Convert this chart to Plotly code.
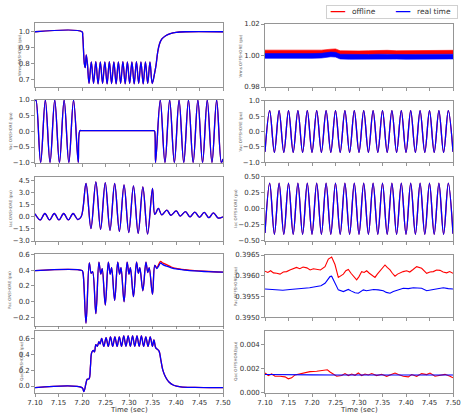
import plotly.graph_objects as go

W, H = 462, 415
FONT = "DejaVu Sans"
RED = "#ff0000"
BLUE = "#0000ff"
FRAME = "#7a7a7a"
TXT = "#333333"

# ---------------- tick labels ----------------
x_ticks = [7.10, 7.15, 7.20, 7.25, 7.30, 7.35, 7.40, 7.45, 7.50]
x_ticklabels = ["7.10", "7.15", "7.20", "7.25", "7.30", "7.35", "7.40", "7.45", "7.50"]

yt_vrms_on = [0.7, 0.8, 0.9, 1.0]
yl_vrms_on = ["0.7", "0.8", "0.9", "1.0"]
yt_vac = [-1.0, -0.5, 0.0, 0.5, 1.0]
yl_vac = ["\u22121.0", "\u22120.5", "0.0", "0.5", "1.0"]
yt_iac_on = [-3.0, -1.5, 0.0, 1.5, 3.0, 4.5]
yl_iac_on = ["\u22123.0", "\u22121.5", "0.0", "1.5", "3.0", "4.5"]
yt_pac_on = [-0.2, 0.0, 0.2, 0.4, 0.6]
yl_pac_on = ["\u22120.2", "0.0", "0.2", "0.4", "0.6"]
yt_qac_on = [0.0, 0.2, 0.4, 0.6]
yl_qac_on = ["0.0", "0.2", "0.4", "0.6"]
yt_vrms_off = [0.98, 1.00, 1.02]
yl_vrms_off = ["0.98", "1.00", "1.02"]
yt_iac_off = [-0.5, -0.25, 0.0, 0.25, 0.5]
yl_iac_off = ["\u22120.50", "\u22120.25", "0.00", "0.25", "0.50"]
yt_pac_off = [0.3950, 0.3955, 0.3960, 0.3965]
yl_pac_off = ["0.3950", "0.3955", "0.3960", "0.3965"]
yt_qac_off = [0.0, 0.002, 0.004]
yl_qac_off = ["0.000", "0.002", "0.004"]

series_names = ["offline", "real time"]

# ---------------- ONSHORE data (offline and real time coincide except Pac) ----------------
vrms_on_t = [7.100, 7.2000, 7.2015, 7.2050, 7.2070, 7.2090, 7.2115,
             7.2150, 7.2198, 7.2246, 7.2294, 7.2342, 7.2390, 7.2438, 7.2486, 7.2534, 7.2582,
             7.2630, 7.2678, 7.2726, 7.2774, 7.2822, 7.2870, 7.2918, 7.2966, 7.3014, 7.3062,
             7.3110, 7.3158, 7.3206, 7.3254, 7.3302, 7.3350, 7.3398, 7.3446, 7.3494,
             7.3545, 7.3575, 7.3610, 7.3650, 7.3700, 7.3780, 7.3880, 7.4000, 7.4200, 7.5000]
vrms_on_rt = [1.0, 1.0, 0.975, 0.80, 0.775, 0.855, 0.80,
              0.675, 0.810, 0.675, 0.812, 0.673, 0.810, 0.675, 0.810, 0.672, 0.812,
              0.674, 0.810, 0.673, 0.810, 0.675, 0.812, 0.673, 0.810, 0.674, 0.810,
              0.673, 0.812, 0.675, 0.810, 0.673, 0.810, 0.674, 0.810, 0.675,
              0.74, 0.79, 0.87, 0.925, 0.955, 0.975, 0.988, 0.996, 1.0, 1.0]
vrms_on_off = vrms_on_rt

vac_on_t = [7.100, 7.102, 7.112, 7.122, 7.132, 7.142, 7.152, 7.162, 7.172, 7.182, 7.192,
            7.1955, 7.2000, 7.2500, 7.3000, 7.3500, 7.3530, 7.3545,
            7.3565, 7.3665, 7.3765, 7.3865, 7.3965, 7.4065, 7.4165, 7.4265, 7.4365, 7.4465,
            7.4565, 7.4665, 7.4765, 7.4865, 7.4965, 7.5000]
vac_on_rt = [0.97, 1.0, -1.0, 1.0, -1.0, 1.0, -1.0, 1.0, -1.0, 1.0, -1.0,
             0.02, 0.02, 0.02, 0.02, 0.02, 0.02, 0.0,
             -1.0, 1.0, -1.0, 1.0, -1.0, 1.0, -1.0, 1.0, -1.0, 1.0,
             -1.0, 1.0, -1.0, 1.0, -1.0, -0.88]
vac_on_off = vac_on_rt

iac_on_t = [7.100, 7.111, 7.121, 7.131, 7.141, 7.151, 7.161, 7.171, 7.181, 7.191, 7.1985,
            7.2085, 7.2190, 7.2295, 7.2395, 7.2495, 7.2595, 7.2695, 7.2795, 7.2895, 7.2995,
            7.3095, 7.3195, 7.3295, 7.3395, 7.3500, 7.3550,
            7.3625, 7.3695, 7.3805, 7.3890, 7.4005, 7.4090, 7.4200, 7.4300, 7.4400, 7.4500,
            7.4600, 7.4700, 7.4795, 7.4900, 7.5000]
iac_on_rt = [0.38, -0.38, 0.42, -0.38, 0.42, -0.38, 0.42, -0.38, 0.42, -0.33, 0.05,
             4.15, -1.45, 4.36, -1.55, 4.27, -1.68, 4.15, -1.80, 3.98, -1.95,
             3.86, -2.05, 3.73, -2.15, 3.55, 0.30,
             1.05, 0.25, 0.85, 0.20, 0.75, 0.10, 0.65, 0.00, 0.60, -0.05,
             0.55, -0.10, 0.50, -0.15, 0.00]
iac_on_off = iac_on_rt

pac_on_t = [7.100, 7.2000, 7.2020, 7.2085, 7.2155, 7.2195, 7.2225,
            7.2295, 7.2360, 7.2400, 7.2430, 7.2495, 7.2560, 7.2600, 7.2630,
            7.2695, 7.2760, 7.2800, 7.2830, 7.2895, 7.2960, 7.3000, 7.3030,
            7.3095, 7.3160, 7.3200, 7.3230, 7.3295, 7.3360, 7.3400, 7.3430, 7.3500,
            7.3550, 7.3590, 7.3630, 7.3670, 7.3720, 7.3800, 7.3900, 7.4000,
            7.4200, 7.4400, 7.4600, 7.4800, 7.5000]
pac_on_rt = [0.395, 0.395, 0.37, -0.27, 0.49, 0.36, 0.38,
             -0.15, 0.50, 0.35, 0.42, -0.04, 0.50, 0.35, 0.43,
             0.02, 0.50, 0.35, 0.43, 0.00, 0.50, 0.35, 0.43,
             0.065, 0.50, 0.36, 0.43, 0.14, 0.50, 0.37, 0.43, 0.095,
             0.46, 0.42, 0.45, 0.49, 0.47, 0.45, 0.43, 0.415,
             0.400, 0.390, 0.383, 0.378, 0.374]
pac_on_off = [0.395, 0.395, 0.37, -0.27, 0.49, 0.36, 0.38,
              -0.15, 0.50, 0.35, 0.42, -0.04, 0.50, 0.35, 0.43,
              0.02, 0.50, 0.35, 0.43, 0.00, 0.50, 0.35, 0.43,
              0.065, 0.50, 0.36, 0.43, 0.14, 0.50, 0.37, 0.43, 0.095,
              0.46, 0.43, 0.47, 0.51, 0.49, 0.47, 0.44, 0.422,
              0.405, 0.394, 0.386, 0.380, 0.376]

qac_on_t = [7.100, 7.2000, 7.2040, 7.2080, 7.2110, 7.2150, 7.2180, 7.2205, 7.2240, 7.2265,
            7.2295, 7.2325, 7.2360, 7.2385,
            7.2418, 7.2465, 7.2512, 7.2559, 7.2606, 7.2653, 7.2700, 7.2747, 7.2794, 7.2841,
            7.2888, 7.2935, 7.2982, 7.3029, 7.3076, 7.3123, 7.3170, 7.3217, 7.3264, 7.3311,
            7.3358, 7.3405, 7.3452, 7.3499,
            7.3530, 7.3570, 7.3610, 7.3640, 7.3680, 7.3720, 7.3780, 7.3850, 7.3950, 7.4100,
            7.4400, 7.5000]
qac_on_rt = [-0.02, -0.02, -0.07, 0.02, 0.085, 0.09, 0.25, 0.42, 0.45, 0.43,
             0.52, 0.50, 0.56, 0.53,
             0.60, 0.50, 0.61, 0.50, 0.62, 0.50, 0.62, 0.50, 0.62, 0.50,
             0.63, 0.50, 0.63, 0.50, 0.63, 0.50, 0.63, 0.50, 0.63, 0.50,
             0.62, 0.50, 0.62, 0.50,
             0.58, 0.48, 0.46, 0.44, 0.32, 0.20, 0.11, 0.05, 0.01, -0.01,
             -0.018, -0.02]
qac_on_off = qac_on_rt

# ---------------- OFFSHORE data ----------------
vrms_off_t = [7.10, 7.12, 7.14, 7.16, 7.18, 7.20, 7.22, 7.24, 7.25, 7.26, 7.28, 7.30,
              7.32, 7.34, 7.35, 7.36, 7.38, 7.40, 7.42, 7.44, 7.46, 7.48, 7.50]
vrms_off_offline_hi = [1.0034, 1.0034, 1.0035, 1.0034, 1.0035, 1.0035, 1.0034, 1.0040, 1.0042,
                       1.0030, 1.0028, 1.0029, 1.0030, 1.0033, 1.0035, 1.0033, 1.0030, 1.0031,
                       1.0033, 1.0034, 1.0032, 1.0032, 1.0033]
vrms_off_offline_lo = [1.0010, 1.0010, 1.0011, 1.0010, 1.0011, 1.0011, 1.0010, 1.0016, 1.0018,
                       1.0006, 1.0004, 1.0005, 1.0006, 1.0009, 1.0011, 1.0009, 1.0006, 1.0007,
                       1.0009, 1.0010, 1.0008, 1.0008, 1.0009]
vrms_off_rt_hi = [1.0012, 1.0011, 1.0012, 1.0011, 1.0012, 1.0012, 1.0014, 1.0022, 1.0020,
                  1.0008, 1.0006, 1.0007, 1.0006, 1.0008, 1.0007, 1.0006, 1.0007, 1.0006,
                  1.0007, 1.0008, 1.0007, 1.0008, 1.0008]
vrms_off_rt_lo = [0.9982, 0.9981, 0.9982, 0.9981, 0.9982, 0.9982, 0.9984, 0.9992, 0.9990,
                  0.9978, 0.9976, 0.9977, 0.9976, 0.9978, 0.9977, 0.9976, 0.9977, 0.9976,
                  0.9977, 0.9978, 0.9977, 0.9978, 0.9978]

sine_off_t = [7.10, 7.11, 7.12, 7.13, 7.14, 7.15, 7.16, 7.17, 7.18, 7.19, 7.20,
              7.21, 7.22, 7.23, 7.24, 7.25, 7.26, 7.27, 7.28, 7.29, 7.30,
              7.31, 7.32, 7.33, 7.34, 7.35, 7.36, 7.37, 7.38, 7.39, 7.40,
              7.41, 7.42, 7.43, 7.44, 7.45, 7.46, 7.47, 7.48, 7.49, 7.50]
vac_off_rt = [-0.66, 0.68, -0.68, 0.68, -0.68, 0.68, -0.68, 0.68, -0.68, 0.68, -0.68,
              0.68, -0.68, 0.68, -0.68, 0.68, -0.68, 0.68, -0.68, 0.68, -0.68,
              0.68, -0.68, 0.68, -0.68, 0.68, -0.68, 0.68, -0.68, 0.68, -0.68,
              0.68, -0.68, 0.68, -0.68, 0.68, -0.68, 0.68, -0.68, 0.68, -0.66]
vac_off_off = vac_off_rt
iac_off_rt = [-0.38, 0.40, -0.40, 0.40, -0.40, 0.40, -0.40, 0.40, -0.40, 0.40, -0.40,
              0.40, -0.40, 0.40, -0.40, 0.40, -0.40, 0.40, -0.40, 0.40, -0.40,
              0.40, -0.40, 0.40, -0.40, 0.40, -0.40, 0.40, -0.40, 0.40, -0.40,
              0.40, -0.40, 0.40, -0.40, 0.40, -0.40, 0.40, -0.40, 0.40, -0.39]
iac_off_off = iac_off_rt

pac_off_off_t = [7.100, 7.106, 7.112, 7.118, 7.125, 7.132, 7.139, 7.146, 7.153, 7.160,
                 7.167, 7.174, 7.181, 7.189, 7.196, 7.203, 7.210, 7.218, 7.2277, 7.2348,
                 7.2418, 7.2489, 7.256, 7.261, 7.2667, 7.272, 7.2773, 7.283, 7.2879, 7.295,
                 7.300, 7.3057, 7.311, 7.3163, 7.322, 7.327, 7.334, 7.339, 7.3447, 7.350,
                 7.3553, 7.360, 7.366, 7.371, 7.3766, 7.382, 7.3872, 7.394, 7.4014, 7.408,
                 7.415, 7.4227, 7.4333, 7.438, 7.444, 7.451, 7.4582, 7.465, 7.4723, 7.479,
                 7.4865, 7.493, 7.500]
pac_off_off = [0.39611, 0.39608, 0.39612, 0.39607, 0.39606, 0.39604, 0.39609, 0.39610, 0.39614,
               0.39618, 0.39620, 0.39617, 0.39621, 0.39619, 0.39614, 0.39617, 0.39615, 0.39614,
               0.39622, 0.39640, 0.39645, 0.39627, 0.39596, 0.39600, 0.39604, 0.39612, 0.39615,
               0.39606, 0.39599, 0.39590, 0.39598, 0.39610, 0.39608, 0.39612, 0.39606, 0.39602,
               0.39596, 0.39604, 0.39612, 0.39620, 0.39626, 0.39620, 0.39614, 0.39606, 0.39599,
               0.39604, 0.39607, 0.39610, 0.39612, 0.39609, 0.39615, 0.39622, 0.39618, 0.39612,
               0.39606, 0.39609, 0.39610, 0.39614, 0.39613, 0.39609, 0.39607, 0.39610, 0.39606]
pac_off_rt_t = [7.100, 7.110, 7.1248, 7.138, 7.1532, 7.167, 7.1816, 7.195, 7.2099, 7.219,
                7.2277, 7.2383, 7.2418, 7.2489, 7.256, 7.2667, 7.272, 7.2773, 7.284, 7.2915,
                7.2986, 7.3092, 7.316, 7.3234, 7.331, 7.3411, 7.3518, 7.358, 7.366, 7.373,
                7.3801, 7.3943, 7.405, 7.4156, 7.4333, 7.444, 7.4582, 7.468, 7.4794, 7.490,
                7.500]
pac_off_rt = [0.39568, 0.39567, 0.39566, 0.39565, 0.39567, 0.39568, 0.39570, 0.39571, 0.39574,
              0.39576, 0.39582, 0.39598, 0.39599, 0.39582, 0.39566, 0.39562, 0.39565, 0.39567,
              0.39563, 0.39559, 0.39558, 0.39566, 0.39564, 0.39565, 0.39567, 0.39566, 0.39564,
              0.39560, 0.39558, 0.39562, 0.39565, 0.39570, 0.39569, 0.39571, 0.39570, 0.39564,
              0.39567, 0.39569, 0.39571, 0.39569, 0.39568]

qac_off_off_t = [7.1000, 7.1071, 7.1142, 7.1213, 7.1319, 7.1426, 7.1496, 7.1567, 7.1638, 7.1745,
                 7.1851, 7.1957, 7.2099, 7.2241, 7.2326, 7.2383, 7.2454, 7.2525, 7.2631, 7.2702,
                 7.2773, 7.2844, 7.2915, 7.2986, 7.3057, 7.3128, 7.3199, 7.3270, 7.3376, 7.3482,
                 7.3589, 7.3695, 7.3766, 7.3837, 7.3943, 7.4050, 7.4121, 7.4227, 7.4333, 7.4440,
                 7.4511, 7.4617, 7.4723, 7.4830, 7.4936, 7.5000]
qac_off_off = [0.00162, 0.00141, 0.00154, 0.00135, 0.00135, 0.00130, 0.00114, 0.00122, 0.00146, 0.00157,
               0.00168, 0.00173, 0.00176, 0.00181, 0.00189, 0.00170, 0.00149, 0.00135, 0.00141, 0.00157,
               0.00141, 0.00154, 0.00143, 0.00162, 0.00141, 0.00154, 0.00146, 0.00157, 0.00141, 0.00151,
               0.00135, 0.00149, 0.00162, 0.00149, 0.00135, 0.00130, 0.00149, 0.00135, 0.00157, 0.00149,
               0.00162, 0.00135, 0.00143, 0.00151, 0.00135, 0.00122]
qac_off_rt_t = [7.10, 7.15, 7.20, 7.25, 7.30, 7.35, 7.40, 7.45, 7.50]
qac_off_rt = [0.00150, 0.00146, 0.00147, 0.00146, 0.00146, 0.00145, 0.00146, 0.00145, 0.00146]

# ---------------- layout geometry (pixels) ----------------
left_x = (35, 223)
right_x = (265, 453)
left_rows = [(23, 87.3), (100, 162.7), (177, 241), (254.3, 325.6), (330.7, 392.7)]
right_rows = [(24, 87), (100.7, 162.3), (176.7, 240.7), (255, 317.3), (330.7, 392.7)]

fig = go.Figure()
LW = 1.3


def ax_name(i, kind):
    return kind if i == 1 else f"{kind}{i}"


def add_line(i, t, y, color, name, shape="spline", width=LW):
    fig.add_trace(go.Scatter(
        x=t, y=y, mode="lines", name=name, showlegend=False, legendgroup=name,
        line=dict(color=color, width=width, shape=shape),
        xaxis=ax_name(i, "x"), yaxis=ax_name(i, "y"), hoverinfo="skip"))


OFF, RT = series_names
# Left column
add_line(1, vrms_on_t, vrms_on_off, RED, OFF)
add_line(1, vrms_on_t, vrms_on_rt, BLUE, RT)
add_line(2, vac_on_t, vac_on_off, RED, OFF)
add_line(2, vac_on_t, vac_on_rt, BLUE, RT)
add_line(3, iac_on_t, iac_on_off, RED, OFF)
add_line(3, iac_on_t, iac_on_rt, BLUE, RT)
add_line(4, pac_on_t, pac_on_off, RED, OFF)
add_line(4, pac_on_t, pac_on_rt, BLUE, RT)
add_line(5, qac_on_t, qac_on_off, RED, OFF)
add_line(5, qac_on_t, qac_on_rt, BLUE, RT)

# Right column: Vrms offshore drawn as the envelope of its fast ripple
for lo, hi, col, nm in [(vrms_off_offline_lo, vrms_off_offline_hi, RED, OFF),
                        (vrms_off_rt_lo, vrms_off_rt_hi, BLUE, RT)]:
    fig.add_trace(go.Scatter(x=vrms_off_t, y=lo, mode="lines", showlegend=False,
                             line=dict(color=col, width=0.6), xaxis="x6", yaxis="y6",
                             hoverinfo="skip", name=nm))
    fig.add_trace(go.Scatter(x=vrms_off_t, y=hi, mode="lines", showlegend=False,
                             line=dict(color=col, width=0.6), fill="tonexty", fillcolor=col,
                             xaxis="x6", yaxis="y6", hoverinfo="skip", name=nm))

add_line(7, sine_off_t, vac_off_off, RED, OFF)
add_line(7, sine_off_t, vac_off_rt, BLUE, RT)
add_line(8, sine_off_t, iac_off_off, RED, OFF)
add_line(8, sine_off_t, iac_off_rt, BLUE, RT)
add_line(9, pac_off_off_t, pac_off_off, RED, OFF, shape="linear", width=1.1)
add_line(9, pac_off_rt_t, pac_off_rt, BLUE, RT, shape="linear", width=1.1)
add_line(10, qac_off_off_t, qac_off_off, RED, OFF, shape="linear", width=1.1)
add_line(10, qac_off_rt_t, qac_off_rt, BLUE, RT, shape="linear", width=1.1)

y_ranges = [[0.651, 1.055], [-1.0, 1.0], [-3.0, 4.96], [-0.30, 0.60], [-0.084, 0.697],
            [0.98, 1.02], [-1.0, 1.0], [-0.5, 0.5], [0.3950, 0.3965], [0.0, 0.0051]]
y_ticks = [(yt_vrms_on, yl_vrms_on), (yt_vac, yl_vac), (yt_iac_on, yl_iac_on),
           (yt_pac_on, yl_pac_on), (yt_qac_on, yl_qac_on),
           (yt_vrms_off, yl_vrms_off), (yt_vac, yl_vac), (yt_iac_off, yl_iac_off),
           (yt_pac_off, yl_pac_off), (yt_qac_off, yl_qac_off)]
y_titles = ["Vrms ONSHORE (pu)", "Vac ONSHORE (pu)", "Iac ONSHORE (pu)", "Pac ONSHORE (pu)",
            "Qac ONSHORE (pu)", "Vrms OFFSHORE (pu)", "Vac OFFSHORE (pu)", "Iac OFFSHORE (pu)",
            "Pac OFFSHORE (pu)", "Qac OFFSHORE(pu)"]
title_x = [19, 10, 10, 10, 22, 240, 240, 236, 235, 236]

tickfont = dict(family=FONT, size=7, color=TXT)
annotations = []
layout = {}
for i in range(1, 11):
    col_x = left_x if i <= 5 else right_x
    top, bot = (left_rows if i <= 5 else right_rows)[(i - 1) % 5]
    bottom_row = (i % 5 == 0)
    layout["xaxis" if i == 1 else f"xaxis{i}"] = dict(
        domain=[col_x[0] / W, col_x[1] / W], anchor=ax_name(i, "y"),
        range=[7.10, 7.50], tickvals=x_ticks, ticktext=x_ticklabels,
        showticklabels=bottom_row, ticks="outside", ticklen=3, tickwidth=0.8,
        tickcolor=FRAME, showline=True, linecolor=FRAME, linewidth=0.8, mirror=True,
        showgrid=False, zeroline=False, tickfont=tickfont, fixedrange=True,
        automargin=False)
    tv, tl = y_ticks[i - 1]
    layout["yaxis" if i == 1 else f"yaxis{i}"] = dict(
        domain=[1 - bot / H, 1 - top / H], anchor=ax_name(i, "x"),
        range=y_ranges[i - 1], tickvals=tv, ticktext=tl,
        ticks="outside", ticklen=3, tickwidth=0.8, tickcolor=FRAME,
        showline=True, linecolor=FRAME, linewidth=0.8, mirror=True,
        showgrid=False, zeroline=False, tickfont=tickfont, fixedrange=True,
        automargin=False)
    annotations.append(dict(
        x=title_x[i - 1] / W, y=1 - (top + bot) / 2 / H, xref="paper", yref="paper",
        text=y_titles[i - 1], textangle=-90, showarrow=False, xanchor="center",
        yanchor="middle", font=dict(family=FONT, size=4, color="#555")))

for cx in [(left_x[0] + left_x[1]) / 2, (right_x[0] + right_x[1]) / 2]:
    annotations.append(dict(x=cx / W, y=1 - 410 / H, xref="paper", yref="paper",
                            text="Time (sec)", showarrow=False, xanchor="center",
                            yanchor="middle", font=dict(family=FONT, size=7, color=TXT)))

# compact matplotlib-style legend above the right column
annotations.append(dict(x=392 / W, y=1 - 12 / H, xref="paper", yref="paper",
                        text="\u00a0", showarrow=False, xanchor="center", yanchor="middle",
                        width=130, height=12, bgcolor="white",
                        bordercolor="#d0d0d0", borderwidth=1, borderpad=0,
                        font=dict(family=FONT, size=7)))
legend_items = [(338, RED, OFF, 350), (403, BLUE, RT, 415)]
for kx, col, label, tx in legend_items:
    annotations.append(dict(x=kx / W, y=1 - 10.5 / H, xref="paper", yref="paper",
                            text="\u2014", showarrow=False, xanchor="center", yanchor="middle",
                            font=dict(family=FONT, size=16, color=col)))
    annotations.append(dict(x=tx / W, y=1 - 11.5 / H, xref="paper", yref="paper",
                            text=label, showarrow=False, xanchor="left", yanchor="middle",
                            font=dict(family=FONT, size=7.5, color=TXT)))

fig.update_layout(
    width=W, height=H, margin=dict(l=0, r=0, t=0, b=0, autoexpand=False),
    paper_bgcolor="white", plot_bgcolor="white",
    font=dict(family=FONT, size=7, color=TXT),
    annotations=annotations, showlegend=False,
    **layout)

fig.write_html("out.html", config={"displayModeBar": False, "staticPlot": True},
               post_script="document.body.style.margin='0px';")
